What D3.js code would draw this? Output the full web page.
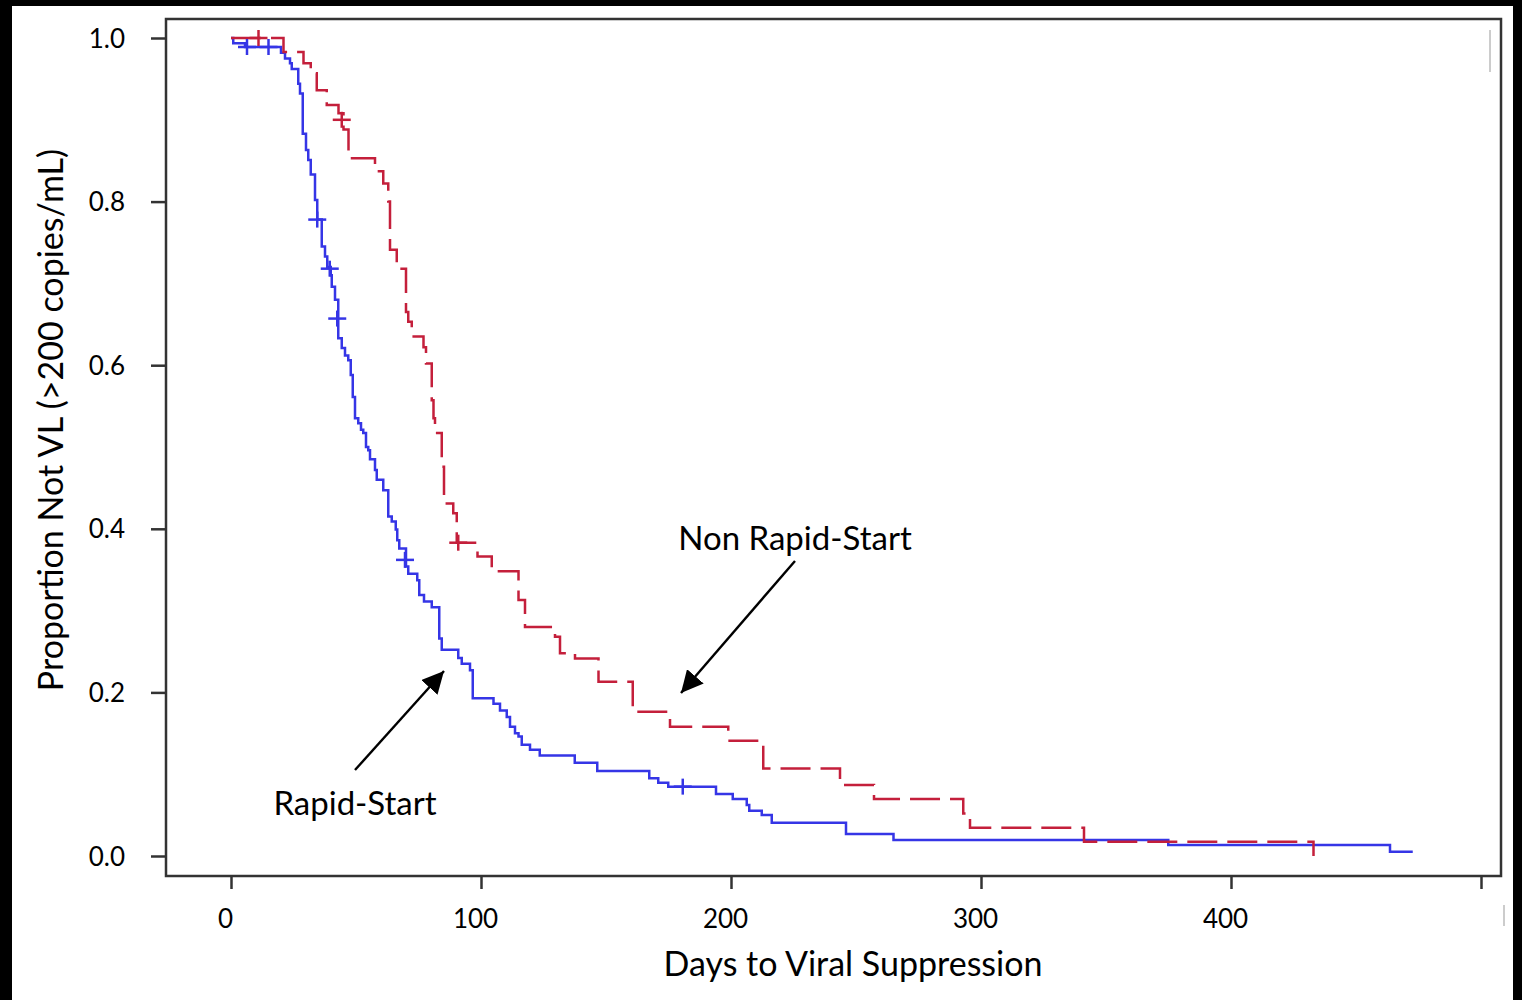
<!DOCTYPE html>
<html>
<head>
<meta charset="utf-8">
<script src="https://cdn.jsdelivr.net/npm/d3@7"></script>
<style>
  body { margin: 0; background: #fff; }
  text { font-family: Lato, "Open Sans", sans-serif; fill: #000; }
</style>
</head>
<body>
<script>
// Kaplan-Meier curves: days to viral suppression
var rapidDays = [0, 0.9, 5.6, 20, 21.6, 23.6, 24.3, 26.9, 27.6, 28.7, 30, 30.9, 31.9, 33.6, 34.5, 36.3, 37.6, 38.5,
  39.9, 40.3, 41.6, 42.9, 44.3, 45.6, 46.9, 47.9, 48.7, 49.6, 50.9, 52, 52.9, 54, 54.9, 55.6, 57.6, 58.3, 60.9,
  62.9, 64.3, 65.9, 66.5, 67.3, 70, 70.9, 74.5, 75.3, 77.2, 80.3, 83.3, 84.3, 90.9, 92.3, 95.6, 96.7, 105, 107.6,
  110.3, 111.6, 113.6, 115, 116.3, 119.6, 123.5, 137.5, 146.5, 167.3, 170.9, 174.9, 194, 200.7, 206.3, 207.3,
  212.3, 216.3, 246, 265, 374.9, 463.6, 472.7];
var rapidSurv = [1.0, 0.9935, 0.989, 0.982, 0.975, 0.969, 0.962, 0.944, 0.932, 0.883, 0.863, 0.851, 0.833, 0.802, 0.778, 0.745, 0.733, 0.72,
  0.71, 0.696, 0.68, 0.633, 0.621, 0.612, 0.606, 0.588, 0.561, 0.535, 0.529, 0.521, 0.517, 0.5, 0.496, 0.485, 0.472, 0.46, 0.447,
  0.415, 0.409, 0.399, 0.386, 0.376, 0.354, 0.345, 0.337, 0.319, 0.311, 0.304, 0.266, 0.252, 0.242, 0.235, 0.227, 0.193, 0.186, 0.178,
  0.17, 0.158, 0.15, 0.146, 0.136, 0.13, 0.123, 0.114, 0.104, 0.095, 0.0896, 0.0848, 0.0758, 0.0697, 0.0623, 0.0554,
  0.0501, 0.0407, 0.0269, 0.0196, 0.0134, 0.0053, 0.0053];
var rapidCensDays = [6.4, 15, 34.5, 39.5, 42.5, 69.6, 180.7];
var rapidCensSurv = [0.989, 0.989, 0.778, 0.718, 0.657, 0.362, 0.0848];

var nonRapidDays = [0, 21, 29, 31.9, 34.3, 38.3, 43, 45, 47, 57.6, 60.9, 62.9, 63.6, 66.3, 70, 70.9, 72.3, 77, 78,
  80.3, 81, 81.6, 84.3, 85.2, 88.9, 90.3, 98.6, 104.3, 115, 117.6, 129.6, 131.6, 137.6, 147, 160.7, 175.6, 198.9,
  212.9, 243.6, 257.2, 292.9, 295.6, 341.2, 433, 433];
var nonRapidSurv = [1.0, 0.983, 0.969, 0.957, 0.936, 0.918, 0.908, 0.888, 0.853, 0.837, 0.822, 0.8, 0.741, 0.718, 0.665, 0.653, 0.635, 0.622, 0.602,
  0.557, 0.535, 0.517, 0.476, 0.431, 0.419, 0.383, 0.366, 0.348, 0.313, 0.28, 0.268, 0.248, 0.2415, 0.213, 0.1764, 0.158, 0.141,
  0.107, 0.0868, 0.0697, 0.052, 0.0346, 0.0175, 0.0175, 0.0];
var nonRapidCensDays = [11, 44.3, 90.9];
var nonRapidCensSurv = [1.0, 0.9, 0.383];

var yTicks = [0, 0.2, 0.4, 0.6, 0.8, 1.0];
var xTicks = [0, 100, 200, 300, 400, 500];
var xTickLabels = ["0", "100", "200", "300", "400", ""];

var W = 1522, H = 1000;
var svg = d3.select("body").append("svg").attr("width", W).attr("height", H);

var x = d3.scaleLinear().domain([0, 500]).range([231, 1481]);
var y = d3.scaleLinear().domain([0, 1]).range([856, 38]);

// black frame of the screenshot
svg.append("rect").attr("x", 0).attr("y", 0).attr("width", W).attr("height", 6).attr("fill", "#000");
svg.append("rect").attr("x", 0).attr("y", 0).attr("width", 12).attr("height", H).attr("fill", "#000");
svg.append("rect").attr("x", 1513).attr("y", 0).attr("width", 9).attr("height", H).attr("fill", "#000");

// plot box
svg.append("rect").attr("x", 166).attr("y", 19).attr("width", 1335).attr("height", 857)
  .attr("fill", "none").attr("stroke", "#333").attr("stroke-width", 2.5);

var yAxis = svg.append("g").attr("transform", "translate(166,0)")
  .call(d3.axisLeft(y).tickValues(yTicks).tickFormat(d3.format(".1f")).tickSize(15).tickSizeOuter(0).tickPadding(26));
var xAxis = svg.append("g").attr("transform", "translate(0,876)")
  .call(d3.axisBottom(x).tickValues(xTicks).tickFormat(function(d, i) { return xTickLabels[i]; })
    .tickSize(13).tickSizeOuter(0).tickPadding(21));
[yAxis, xAxis].forEach(function(a) {
  a.select(".domain").remove();
  a.selectAll(".tick line").attr("stroke", "#333").attr("stroke-width", 2.5);
  a.selectAll(".tick text").style("font-size", "26px").attr("fill", "#000");
});
xAxis.selectAll(".tick text").attr("dx", -6);
yAxis.selectAll(".tick text").attr("dy", "0.35em");

// stray marks in the original picture
svg.append("line").attr("x1", 1490).attr("x2", 1490).attr("y1", 30).attr("y2", 72).attr("stroke", "#999").attr("stroke-width", 1);
svg.append("line").attr("x1", 1504).attr("x2", 1504).attr("y1", 905).attr("y2", 926).attr("stroke", "#999").attr("stroke-width", 1);

var line = d3.line().x(function(d) { return x(d[0]); }).y(function(d) { return y(d[1]); }).curve(d3.curveStepAfter);

var blue = "#3535e6", red = "#c41f3b";

svg.append("path").datum(d3.zip(rapidDays, rapidSurv)).attr("d", line)
  .attr("fill", "none").attr("stroke", blue).attr("stroke-width", 2.5);
svg.append("path").datum(d3.zip(nonRapidDays, nonRapidSurv)).attr("d", line)
  .attr("fill", "none").attr("stroke", red).attr("stroke-width", 2.5).attr("stroke-dasharray", "30,10");

function censor(days, surv, col) {
  var g = svg.append("g");
  d3.zip(days, surv).forEach(function(d) {
    var cx = x(d[0]), cy = y(d[1]);
    g.append("line").attr("x1", cx - 9).attr("x2", cx + 9).attr("y1", cy).attr("y2", cy).attr("stroke", col).attr("stroke-width", 2.5);
    g.append("line").attr("x1", cx).attr("x2", cx).attr("y1", cy - 8).attr("y2", cy + 8).attr("stroke", col).attr("stroke-width", 2.5);
  });
}
censor(rapidCensDays, rapidCensSurv, blue);
censor(nonRapidCensDays, nonRapidCensSurv, red);

// axis titles
svg.append("text").attr("x", 853).attr("y", 976).attr("text-anchor", "middle").style("font-size", "34px")
  .text("Days to Viral Suppression");
svg.append("text").attr("transform", "translate(63,420) rotate(-90)").attr("text-anchor", "middle").style("font-size", "34px")
  .text("Proportion Not VL (>200 copies/mL)");

// annotations with arrows
var defs = svg.append("defs");
defs.append("marker").attr("id", "arr").attr("viewBox", "0 0 10 10").attr("refX", 10).attr("refY", 5)
  .attr("markerWidth", 22).attr("markerHeight", 22).attr("markerUnits", "userSpaceOnUse")
  .attr("orient", "auto").append("path").attr("d", "M0,0 L10,5 L0,10 Z").attr("fill", "#000");

svg.append("line").attr("x1", 795).attr("y1", 561).attr("x2", 681).attr("y2", 693)
  .attr("stroke", "#000").attr("stroke-width", 2.4).attr("marker-end", "url(#arr)");
svg.append("line").attr("x1", 355).attr("y1", 770).attr("x2", 444).attr("y2", 671)
  .attr("stroke", "#000").attr("stroke-width", 2.4).attr("marker-end", "url(#arr)");

svg.append("text").attr("x", 795).attr("y", 550).attr("text-anchor", "middle").style("font-size", "33px").text("Non Rapid-Start");
svg.append("text").attr("x", 355).attr("y", 815).attr("text-anchor", "middle").style("font-size", "33px").text("Rapid-Start");
</script>
</body>
</html>
